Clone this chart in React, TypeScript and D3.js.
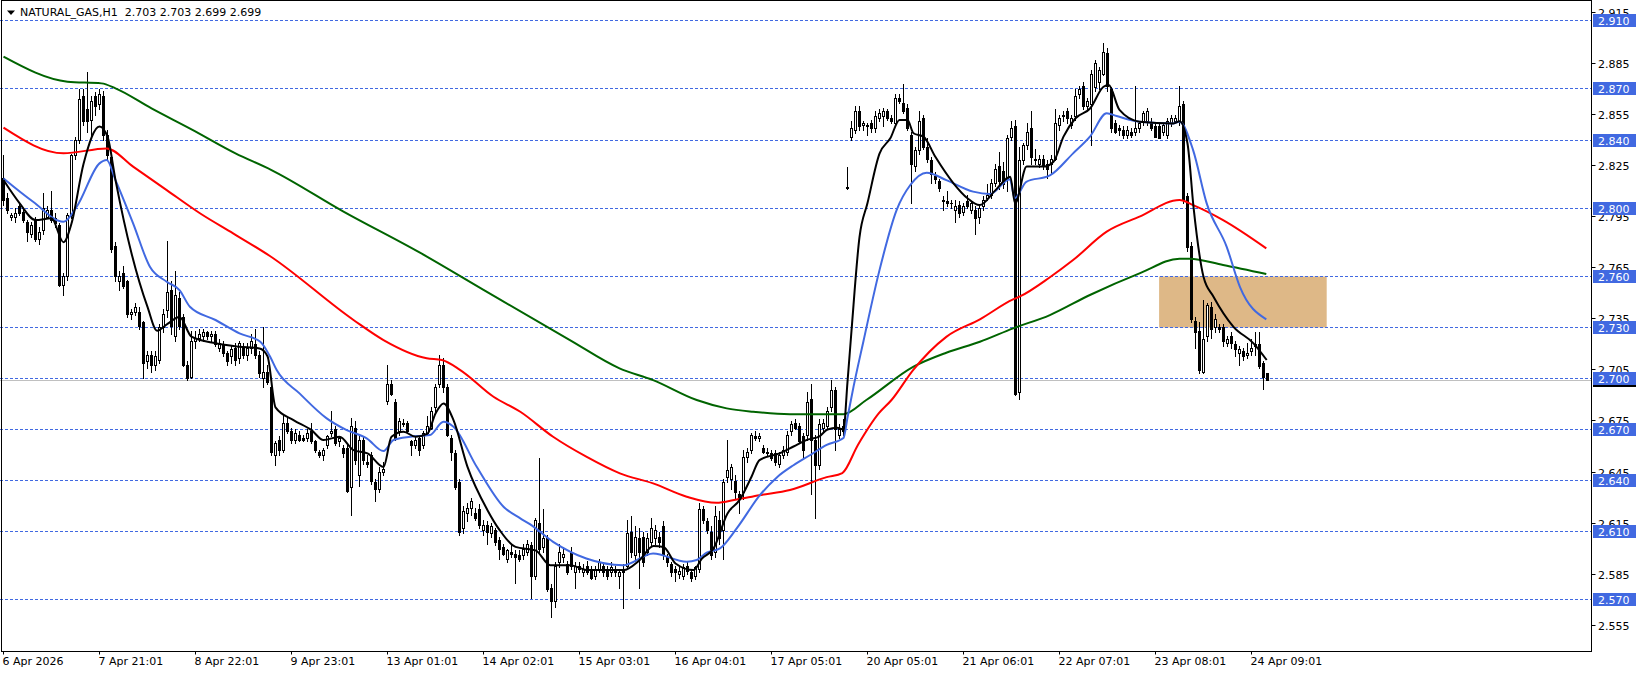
import { useMemo } from 'react';
import * as d3 from 'd3';

const WIDTH = 1641;
const HEIGHT = 675;
const PLOT_RIGHT = 1591.5;
const PLOT_BOTTOM = 651.5;
const FONT = "'DejaVu Sans', sans-serif";

const SYMBOL = 'NATURAL_GAS,H1';

// hourly bars, [open, high, low, close]
const bars: [number, number, number, number][] = [
  [2.818, 2.831, 2.802, 2.805], [2.806, 2.809, 2.797, 2.799], [2.795, 2.797, 2.793, 2.796], [2.795, 2.800, 2.792, 2.797],
  [2.801, 2.803, 2.796, 2.797], [2.798, 2.799, 2.792, 2.793], [2.792, 2.793, 2.781, 2.786], [2.785, 2.792, 2.783, 2.790],
  [2.793, 2.795, 2.781, 2.782], [2.782, 2.789, 2.779, 2.786], [2.787, 2.809, 2.785, 2.800], [2.795, 2.801, 2.794, 2.799],
  [2.799, 2.810, 2.792, 2.793], [2.794, 2.797, 2.789, 2.791], [2.790, 2.791, 2.754, 2.755], [2.755, 2.762, 2.749, 2.760],
  [2.760, 2.797, 2.758, 2.796], [2.796, 2.832, 2.794, 2.831], [2.831, 2.842, 2.829, 2.840], [2.840, 2.870, 2.838, 2.864],
  [2.866, 2.870, 2.849, 2.851], [2.858, 2.880, 2.845, 2.851], [2.852, 2.866, 2.842, 2.863], [2.866, 2.868, 2.855, 2.860],
  [2.861, 2.870, 2.858, 2.867], [2.866, 2.869, 2.840, 2.843], [2.843, 2.846, 2.829, 2.831], [2.830, 2.832, 2.774, 2.776],
  [2.778, 2.780, 2.757, 2.760], [2.757, 2.763, 2.752, 2.760], [2.762, 2.766, 2.753, 2.754], [2.757, 2.758, 2.736, 2.738],
  [2.738, 2.741, 2.735, 2.739], [2.739, 2.744, 2.737, 2.742], [2.739, 2.742, 2.729, 2.731], [2.733, 2.734, 2.700, 2.709],
  [2.710, 2.716, 2.706, 2.714], [2.714, 2.716, 2.704, 2.708], [2.708, 2.716, 2.705, 2.713], [2.711, 2.732, 2.709, 2.730],
  [2.730, 2.741, 2.727, 2.738], [2.740, 2.781, 2.736, 2.751], [2.752, 2.757, 2.726, 2.731], [2.725, 2.763, 2.722, 2.749],
  [2.747, 2.751, 2.729, 2.731], [2.736, 2.738, 2.707, 2.708], [2.708, 2.710, 2.699, 2.700], [2.701, 2.728, 2.700, 2.722],
  [2.722, 2.728, 2.718, 2.724], [2.724, 2.729, 2.722, 2.726], [2.725, 2.729, 2.722, 2.727], [2.727, 2.728, 2.723, 2.725],
  [2.725, 2.728, 2.722, 2.726], [2.726, 2.728, 2.719, 2.720], [2.718, 2.723, 2.716, 2.721], [2.720, 2.722, 2.713, 2.715],
  [2.715, 2.716, 2.708, 2.710], [2.713, 2.719, 2.709, 2.717], [2.718, 2.721, 2.708, 2.711], [2.712, 2.722, 2.709, 2.721],
  [2.718, 2.721, 2.712, 2.714], [2.714, 2.721, 2.711, 2.718], [2.718, 2.726, 2.715, 2.722], [2.720, 2.729, 2.712, 2.714],
  [2.714, 2.716, 2.701, 2.703], [2.700, 2.730, 2.695, 2.704], [2.704, 2.708, 2.697, 2.698], [2.695, 2.697, 2.655, 2.657],
  [2.655, 2.663, 2.649, 2.662], [2.664, 2.666, 2.655, 2.658], [2.658, 2.679, 2.657, 2.674], [2.674, 2.677, 2.668, 2.669],
  [2.669, 2.671, 2.662, 2.664], [2.664, 2.670, 2.662, 2.668], [2.667, 2.669, 2.663, 2.664], [2.665, 2.667, 2.663, 2.664],
  [2.665, 2.670, 2.663, 2.668], [2.669, 2.674, 2.662, 2.663], [2.663, 2.664, 2.657, 2.658], [2.657, 2.658, 2.654, 2.655],
  [2.655, 2.659, 2.652, 2.658], [2.661, 2.667, 2.659, 2.666], [2.668, 2.681, 2.666, 2.669], [2.670, 2.672, 2.661, 2.662],
  [2.663, 2.666, 2.660, 2.665], [2.659, 2.661, 2.654, 2.656], [2.659, 2.661, 2.633, 2.634], [2.636, 2.677, 2.620, 2.672],
  [2.671, 2.675, 2.650, 2.652], [2.643, 2.667, 2.637, 2.664], [2.664, 2.666, 2.650, 2.652], [2.651, 2.655, 2.648, 2.650],
  [2.655, 2.657, 2.638, 2.640], [2.639, 2.641, 2.628, 2.635], [2.635, 2.648, 2.633, 2.645], [2.645, 2.651, 2.643, 2.647],
  [2.687, 2.708, 2.685, 2.697], [2.697, 2.699, 2.690, 2.691], [2.686, 2.688, 2.664, 2.665], [2.669, 2.677, 2.667, 2.675],
  [2.674, 2.676, 2.672, 2.673], [2.674, 2.675, 2.668, 2.669], [2.663, 2.664, 2.655, 2.661], [2.661, 2.666, 2.659, 2.664],
  [2.665, 2.667, 2.655, 2.658], [2.661, 2.669, 2.659, 2.668], [2.668, 2.678, 2.667, 2.672], [2.671, 2.683, 2.670, 2.681],
  [2.683, 2.697, 2.681, 2.695], [2.697, 2.714, 2.695, 2.708], [2.708, 2.712, 2.692, 2.695], [2.695, 2.697, 2.666, 2.667],
  [2.665, 2.667, 2.652, 2.657], [2.656, 2.658, 2.635, 2.636], [2.639, 2.641, 2.608, 2.610], [2.612, 2.625, 2.609, 2.622],
  [2.621, 2.627, 2.616, 2.624], [2.624, 2.630, 2.620, 2.628], [2.621, 2.624, 2.617, 2.618], [2.623, 2.626, 2.612, 2.614],
  [2.611, 2.617, 2.608, 2.614], [2.614, 2.616, 2.603, 2.610], [2.609, 2.615, 2.607, 2.613], [2.611, 2.612, 2.602, 2.604],
  [2.605, 2.607, 2.594, 2.600], [2.601, 2.603, 2.596, 2.597], [2.594, 2.600, 2.592, 2.599], [2.598, 2.603, 2.595, 2.597],
  [2.597, 2.599, 2.580, 2.595], [2.596, 2.599, 2.593, 2.594], [2.596, 2.603, 2.594, 2.600], [2.598, 2.605, 2.596, 2.603],
  [2.602, 2.604, 2.571, 2.584], [2.584, 2.618, 2.582, 2.617], [2.615, 2.653, 2.598, 2.600], [2.601, 2.623, 2.598, 2.606],
  [2.606, 2.608, 2.575, 2.576], [2.577, 2.579, 2.560, 2.569], [2.569, 2.592, 2.566, 2.590], [2.592, 2.603, 2.589, 2.598],
  [2.595, 2.601, 2.592, 2.597], [2.591, 2.593, 2.585, 2.586], [2.598, 2.601, 2.588, 2.590], [2.586, 2.592, 2.577, 2.590],
  [2.590, 2.592, 2.586, 2.588], [2.586, 2.591, 2.584, 2.588], [2.590, 2.593, 2.585, 2.586], [2.588, 2.590, 2.582, 2.583],
  [2.584, 2.590, 2.582, 2.588], [2.588, 2.594, 2.586, 2.592], [2.590, 2.592, 2.584, 2.586], [2.588, 2.590, 2.582, 2.584],
  [2.586, 2.592, 2.584, 2.589], [2.588, 2.590, 2.584, 2.586], [2.584, 2.588, 2.577, 2.586], [2.588, 2.591, 2.565, 2.586],
  [2.590, 2.617, 2.588, 2.609], [2.610, 2.619, 2.595, 2.598], [2.596, 2.613, 2.593, 2.607], [2.606, 2.612, 2.577, 2.598],
  [2.607, 2.610, 2.590, 2.592], [2.598, 2.609, 2.596, 2.606], [2.604, 2.618, 2.602, 2.612], [2.606, 2.614, 2.603, 2.611],
  [2.607, 2.610, 2.601, 2.604], [2.613, 2.616, 2.594, 2.596], [2.595, 2.597, 2.590, 2.592], [2.591, 2.592, 2.584, 2.586],
  [2.588, 2.590, 2.581, 2.586], [2.585, 2.590, 2.583, 2.587], [2.584, 2.591, 2.582, 2.589], [2.590, 2.592, 2.585, 2.587],
  [2.586, 2.588, 2.581, 2.583], [2.584, 2.590, 2.582, 2.589], [2.588, 2.627, 2.586, 2.623], [2.623, 2.625, 2.615, 2.617],
  [2.616, 2.618, 2.609, 2.611], [2.610, 2.613, 2.594, 2.596], [2.598, 2.625, 2.595, 2.619], [2.617, 2.622, 2.603, 2.606],
  [2.611, 2.641, 2.594, 2.639], [2.642, 2.664, 2.639, 2.646], [2.641, 2.650, 2.635, 2.648], [2.640, 2.643, 2.630, 2.633],
  [2.632, 2.634, 2.621, 2.630], [2.633, 2.658, 2.629, 2.654], [2.654, 2.659, 2.651, 2.657], [2.658, 2.668, 2.656, 2.667],
  [2.666, 2.669, 2.664, 2.665], [2.665, 2.668, 2.663, 2.666], [2.659, 2.661, 2.656, 2.657], [2.657, 2.659, 2.655, 2.656],
  [2.656, 2.658, 2.652, 2.653], [2.656, 2.658, 2.649, 2.651], [2.650, 2.657, 2.648, 2.655], [2.655, 2.660, 2.653, 2.658],
  [2.657, 2.669, 2.655, 2.667], [2.669, 2.675, 2.667, 2.673], [2.674, 2.676, 2.670, 2.671], [2.672, 2.674, 2.662, 2.663],
  [2.666, 2.668, 2.653, 2.658], [2.667, 2.692, 2.664, 2.686], [2.688, 2.697, 2.632, 2.664], [2.664, 2.667, 2.618, 2.649],
  [2.649, 2.676, 2.647, 2.673], [2.671, 2.676, 2.669, 2.674], [2.672, 2.683, 2.670, 2.681], [2.683, 2.699, 2.681, 2.693],
  [2.693, 2.695, 2.658, 2.670], [2.667, 2.673, 2.665, 2.670], [2.672, 2.676, 2.667, 2.669], [2.8125, 2.824, 2.811, 2.812],
  [2.842, 2.851, 2.840, 2.847], [2.846, 2.860, 2.844, 2.857], [2.857, 2.860, 2.846, 2.848], [2.849, 2.851, 2.846, 2.850],
  [2.849, 2.850, 2.843, 2.848], [2.850, 2.852, 2.845, 2.847], [2.847, 2.857, 2.845, 2.854], [2.853, 2.858, 2.851, 2.856],
  [2.854, 2.859, 2.848, 2.857], [2.857, 2.858, 2.852, 2.853], [2.853, 2.855, 2.850, 2.851], [2.850, 2.867, 2.849, 2.865],
  [2.865, 2.867, 2.862, 2.863], [2.862, 2.873, 2.856, 2.857], [2.859, 2.861, 2.846, 2.847], [2.843, 2.845, 2.803, 2.826],
  [2.825, 2.836, 2.822, 2.834], [2.834, 2.857, 2.832, 2.851], [2.853, 2.855, 2.835, 2.836], [2.836, 2.841, 2.827, 2.829],
  [2.828, 2.830, 2.815, 2.820], [2.819, 2.821, 2.815, 2.817], [2.816, 2.817, 2.810, 2.812], [2.805, 2.807, 2.799, 2.804],
  [2.804, 2.810, 2.801, 2.803], [2.803, 2.805, 2.800, 2.803], [2.799, 2.805, 2.792, 2.801], [2.802, 2.804, 2.795, 2.797],
  [2.798, 2.803, 2.796, 2.801], [2.804, 2.808, 2.800, 2.801], [2.799, 2.804, 2.797, 2.803], [2.799, 2.801, 2.785, 2.794],
  [2.795, 2.802, 2.791, 2.800], [2.801, 2.807, 2.799, 2.805], [2.806, 2.814, 2.805, 2.808], [2.808, 2.817, 2.806, 2.815],
  [2.815, 2.826, 2.813, 2.823], [2.825, 2.833, 2.811, 2.816], [2.822, 2.827, 2.812, 2.814], [2.817, 2.843, 2.810, 2.841],
  [2.842, 2.851, 2.840, 2.847], [2.848, 2.852, 2.690, 2.691], [2.692, 2.836, 2.688, 2.828], [2.828, 2.838, 2.826, 2.837],
  [2.837, 2.850, 2.835, 2.845], [2.847, 2.857, 2.826, 2.830], [2.829, 2.835, 2.826, 2.828], [2.826, 2.831, 2.824, 2.829],
  [2.829, 2.831, 2.823, 2.825], [2.826, 2.828, 2.818, 2.823], [2.826, 2.831, 2.820, 2.829], [2.829, 2.858, 2.828, 2.850],
  [2.849, 2.855, 2.846, 2.853], [2.854, 2.857, 2.851, 2.855], [2.857, 2.859, 2.850, 2.853], [2.849, 2.855, 2.847, 2.853],
  [2.854, 2.870, 2.852, 2.866], [2.867, 2.872, 2.865, 2.870], [2.872, 2.874, 2.858, 2.860], [2.860, 2.865, 2.858, 2.863],
  [2.861, 2.881, 2.837, 2.879], [2.871, 2.887, 2.869, 2.885], [2.874, 2.883, 2.870, 2.881], [2.879, 2.897, 2.878, 2.892],
  [2.891, 2.894, 2.869, 2.872], [2.870, 2.871, 2.845, 2.847], [2.850, 2.852, 2.844, 2.845], [2.847, 2.849, 2.843, 2.846],
  [2.846, 2.848, 2.841, 2.843], [2.843, 2.848, 2.841, 2.846], [2.845, 2.847, 2.842, 2.843], [2.845, 2.872, 2.843, 2.847],
  [2.847, 2.851, 2.845, 2.850], [2.851, 2.857, 2.849, 2.856], [2.851, 2.859, 2.849, 2.857], [2.850, 2.853, 2.846, 2.847],
  [2.848, 2.850, 2.842, 2.842], [2.848, 2.850, 2.841, 2.841], [2.845, 2.850, 2.843, 2.849], [2.843, 2.853, 2.841, 2.851],
  [2.850, 2.855, 2.848, 2.853], [2.851, 2.855, 2.850, 2.853], [2.851, 2.872, 2.849, 2.860], [2.861, 2.863, 2.803, 2.805],
  [2.807, 2.809, 2.775, 2.777], [2.778, 2.780, 2.733, 2.735], [2.734, 2.736, 2.718, 2.727], [2.728, 2.733, 2.703, 2.705],
  [2.704, 2.746, 2.703, 2.723], [2.725, 2.744, 2.722, 2.743], [2.742, 2.745, 2.724, 2.729], [2.730, 2.738, 2.727, 2.735],
  [2.730, 2.732, 2.727, 2.729], [2.730, 2.732, 2.719, 2.722], [2.721, 2.725, 2.719, 2.723], [2.725, 2.727, 2.718, 2.721],
  [2.720, 2.722, 2.713, 2.717], [2.715, 2.719, 2.708, 2.717], [2.716, 2.718, 2.711, 2.713], [2.714, 2.721, 2.712, 2.715],
  [2.716, 2.723, 2.714, 2.718], [2.719, 2.727, 2.714, 2.720], [2.720, 2.727, 2.706, 2.707], [2.709, 2.710, 2.694, 2.701],
  [2.703, 2.703, 2.699, 2.699],
];

// moving averages, [bar index, value]
const maFast: [number, number][] = [
  [0, 2.8165], [4, 2.803], [8, 2.793], [12, 2.794], [15, 2.780], [17, 2.791], [20, 2.826], [24, 2.848], [26, 2.842],
  [28, 2.8165], [32, 2.7735], [36, 2.742], [38.4, 2.728], [41, 2.732], [44, 2.736], [47, 2.7245], [53, 2.7206],
  [59, 2.7186], [64, 2.7175], [66, 2.713], [68, 2.683], [72.5, 2.6755], [77, 2.6696], [80, 2.6638], [84, 2.6657],
  [87.5, 2.6579], [91, 2.656], [95, 2.648], [97, 2.6657], [100, 2.6687], [103, 2.6657], [106, 2.6676], [108, 2.6794],
  [110, 2.6853], [112.5, 2.6755], [116, 2.648], [121, 2.6226], [124, 2.611], [128, 2.601], [133, 2.599], [136.7, 2.5903],
  [141.7, 2.5903], [146, 2.5874], [155, 2.5874], [159, 2.5932], [162.5, 2.6015], [165, 2.601], [168, 2.5913],
  [172.5, 2.5874], [174.6, 2.5941], [177.5, 2.600], [181, 2.6207], [184, 2.6285], [187, 2.6422], [189, 2.652],
  [194, 2.656], [197.5, 2.660], [201, 2.664], [204, 2.666], [206, 2.670], [208.4, 2.671], [210, 2.670], [211, 2.698],
  [212, 2.728], [214, 2.783], [216, 2.803], [219, 2.832], [221.7, 2.841], [224, 2.8518], [226, 2.8518], [227.5, 2.844],
  [230, 2.842], [233, 2.830], [237.5, 2.8146], [241, 2.8058], [244, 2.8018], [248, 2.8106], [251.7, 2.8185],
  [252.9, 2.8028], [255.8, 2.8244], [260, 2.8244], [262.5, 2.8273], [265, 2.842], [268, 2.8528], [271.7, 2.8587],
  [275, 2.8713], [276.3, 2.8723], [279, 2.8577], [284, 2.8508], [292.5, 2.8498], [294, 2.851], [296, 2.838],
  [297.5, 2.8008], [300, 2.7597], [302.5, 2.748], [307.5, 2.7303], [312.5, 2.7206], [315.8, 2.7108],
];

const maMid: [number, number][] = [
  [0, 2.8175], [7.4, 2.8038], [15, 2.792], [18.3, 2.8008], [24, 2.8263], [25.8, 2.8283], [28, 2.8165], [32.4, 2.7911],
  [36.6, 2.7656], [40.8, 2.7568], [44, 2.7519], [46.6, 2.7421], [53, 2.7343], [59, 2.7264], [64.2, 2.7215],
  [66.6, 2.713], [68.3, 2.7049], [74, 2.6912], [80.8, 2.6765], [85.8, 2.6696], [90.8, 2.6648], [95, 2.6573],
  [97.5, 2.6638], [101.7, 2.6657], [106.6, 2.6667], [110, 2.6745], [112.5, 2.6716], [118.3, 2.6481], [125, 2.6246],
  [129.2, 2.6178], [131.6, 2.6144], [137.4, 2.604], [145.7, 2.5942], [154.9, 2.5903], [162.4, 2.5972],
  [170.8, 2.5923], [173.3, 2.5933], [175.8, 2.5976], [179.1, 2.6001], [183.3, 2.6119], [189.1, 2.6314],
  [193.4, 2.642], [197.5, 2.649], [201.7, 2.655], [205.8, 2.661], [210, 2.665], [211, 2.677], [212.5, 2.695],
  [215, 2.722], [219, 2.7636], [223.3, 2.799], [226.7, 2.8136], [230.8, 2.8208], [235.7, 2.8165], [242.4, 2.8097],
  [246.6, 2.8083], [251.6, 2.817], [252.8, 2.8058], [255.7, 2.8155], [261.6, 2.8192], [267.4, 2.8322], [271.6, 2.842],
  [275.8, 2.8557], [278.3, 2.8541], [284, 2.8508], [292.4, 2.8498], [294, 2.8508], [297.4, 2.8341], [300.8, 2.8028],
  [305.8, 2.7773], [309.1, 2.7538], [315.7, 2.7347],
];

const maSlow: [number, number][] = [
  [0, 2.8473], [15, 2.8322], [25.8, 2.8351], [32.4, 2.8244], [40.8, 2.8106], [49.1, 2.797], [57.4, 2.7852],
  [66.6, 2.7719], [87.5, 2.7343], [95, 2.7225], [105.8, 2.7118], [109.6, 2.7108], [114.2, 2.7049], [122.5, 2.6892],
  [129.2, 2.6804], [137.4, 2.6657], [145.7, 2.654], [154.1, 2.6442], [162.4, 2.6383], [170.8, 2.6305],
  [178.2, 2.6269], [183.3, 2.6289], [189, 2.6314], [196.6, 2.6344], [205.8, 2.642], [209.7, 2.6444],
  [213.6, 2.6609], [218.8, 2.6794], [222, 2.6873], [227.4, 2.7049], [235.7, 2.7244], [244.1, 2.7347],
  [252.4, 2.7464], [254, 2.748], [261.6, 2.7594], [267.4, 2.7695], [275.8, 2.7862], [284, 2.795], [294, 2.8048],
  [297.4, 2.8018], [304.9, 2.793], [315.7, 2.7764],
];

const maLong: [number, number][] = [
  [0, 2.889], [16, 2.8743], [24.5, 2.8733], [28, 2.8704], [37, 2.8586], [47, 2.8463], [58, 2.8322], [67, 2.8224],
  [85, 2.798], [104, 2.774], [120, 2.752], [141.6, 2.7225], [154, 2.7059], [162.4, 2.699], [173.3, 2.6873],
  [180.8, 2.6824], [187.4, 2.6804], [196.6, 2.679], [210, 2.679], [215.7, 2.6873], [227.4, 2.7068], [235.7, 2.7151],
  [244.1, 2.7215], [252.4, 2.7294], [261.6, 2.7372], [271.6, 2.749], [284, 2.7617], [294, 2.7703], [296.5, 2.7703],
  [304.9, 2.7666], [315.7, 2.7613],
];

const timeLabels = [
  '6 Apr 2026', '7 Apr 21:01', '8 Apr 22:01', '9 Apr 23:01', '13 Apr 01:01', '14 Apr 02:01', '15 Apr 03:01',
  '16 Apr 04:01', '17 Apr 05:01', '20 Apr 05:01', '21 Apr 06:01', '22 Apr 07:01', '23 Apr 08:01', '24 Apr 09:01',
];
const BARS_PER_LABEL = 24;

const priceTicks = [2.555, 2.585, 2.615, 2.645, 2.675, 2.705, 2.735, 2.765, 2.795, 2.825, 2.855, 2.885, 2.915];
const levels = [2.910, 2.870, 2.840, 2.800, 2.760, 2.730, 2.700, 2.670, 2.640, 2.610, 2.570];

// supply zone drawn on the chart (bar range, price range)
const zoneBars = [288.9, 330.8];
const zonePrices = [2.760, 2.730];

const LEVEL_BLUE = '#4169E1';

export default function App() {
  const x = d3.scaleLinear().domain([0, 1]).range([3.5, 7.5]);
  const y = d3.scaleLinear().domain([2.91, 2.57]).range([20.9, 599.7]);
  const row = (p: number) => Math.floor(y(p)) + 0.5;

  const maPath = useMemo(() => {
    const gen = d3
      .line<[number, number]>()
      .x((d) => x(d[0]))
      .y((d) => y(d[1]))
      .curve(d3.curveMonotoneX);
    return (pts: [number, number][]) => gen(pts) || '';
  }, []);

  const last = bars[bars.length - 1];
  const bid = last[3];

  const candles = bars.map(([o, h, l, c], i) => {
    const cx = x(i);
    const top = Math.round(y(Math.max(o, c)));
    const bot = Math.round(y(Math.min(o, c)));
    const up = c >= o;
    return (
      <g key={i}>
        <line x1={cx} x2={cx} y1={Math.round(y(h))} y2={Math.round(y(l)) + 1} stroke="#000" strokeWidth={1} />
        {bot - top < 1 ? (
          <line x1={cx - 1.5} x2={cx + 1.5} y1={top + 0.5} y2={top + 0.5} stroke="#000" />
        ) : (
          <rect x={cx - 1} y={top + 0.5} width={2} height={bot - top} fill={up ? '#fff' : '#000'} stroke="#000" strokeWidth={1} />
        )}
      </g>
    );
  });

  return (
    <div style={{ position: 'absolute', left: 0, top: 0 }}>
      <svg width={WIDTH} height={HEIGHT} style={{ display: 'block', fontFamily: FONT }}>
        <rect x={0} y={0} width={WIDTH} height={HEIGHT} fill="#fff" />

        {/* zone */}
        <rect
          x={x(zoneBars[0])}
          y={row(zonePrices[0])}
          width={x(zoneBars[1]) - x(zoneBars[0])}
          height={row(zonePrices[1]) - row(zonePrices[0])}
          fill="#DEB887"
        />

        {/* horizontal levels */}
        {levels.map((p) => (
          <line key={p} x1={0} x2={PLOT_RIGHT} y1={row(p)} y2={row(p)} stroke={LEVEL_BLUE} strokeDasharray="3,2" />
        ))}

        {/* bid line */}
        <line x1={0} x2={PLOT_RIGHT} y1={row(bid)} y2={row(bid)} stroke="#C0C0C0" />

        {candles}

        <path d={maPath(maLong)} fill="none" stroke="#006400" strokeWidth={2} />
        <path d={maPath(maSlow)} fill="none" stroke="#FF0000" strokeWidth={2} />
        <path d={maPath(maMid)} fill="none" stroke={LEVEL_BLUE} strokeWidth={2} />
        <path d={maPath(maFast)} fill="none" stroke="#000" strokeWidth={2} />

        {/* axis area */}
        <rect x={PLOT_RIGHT + 0.5} y={0} width={WIDTH - PLOT_RIGHT} height={HEIGHT} fill="#fff" />
        <rect x={0} y={PLOT_BOTTOM + 0.5} width={WIDTH} height={HEIGHT - PLOT_BOTTOM} fill="#fff" />
        <rect x={1.5} y={0.5} width={PLOT_RIGHT - 1.5} height={PLOT_BOTTOM - 0.5} fill="none" stroke="#000" />

        {/* price axis */}
        {priceTicks.map((p) => (
          <g key={p}>
            <line x1={PLOT_RIGHT} x2={PLOT_RIGHT + 4} y1={row(p)} y2={row(p)} stroke="#000" />
            <text x={1598} y={row(p) + 4} fontSize={11} fill="#000">
              {p.toFixed(3)}
            </text>
          </g>
        ))}
        <rect x={1593} y={row(bid) - 6.5} width={43} height={13} fill="#000" />
        {levels.map((p) => (
          <g key={p}>
            <rect x={1593} y={row(p) - 6.5} width={43} height={13} fill={LEVEL_BLUE} />
            <text x={1598} y={row(p) + 4} fontSize={11} fill="#fff">
              {p.toFixed(3)}
            </text>
          </g>
        ))}

        {/* time axis */}
        {timeLabels.map((t, k) => {
          const tx = x(k * BARS_PER_LABEL);
          return (
            <g key={t}>
              <line x1={tx} x2={tx} y1={PLOT_BOTTOM} y2={PLOT_BOTTOM + 3} stroke="#000" />
              <text x={tx - 1} y={665} fontSize={11} fill="#000">
                {t}
              </text>
            </g>
          );
        })}

        {/* title */}
        <path d="M7,10.5 L15,10.5 L11,15 Z" fill="#000" />
        <text x={20} y={16} fontSize={11} fill="#000" style={{ whiteSpace: 'pre' }}>
          {`${SYMBOL}  ${last.map((v) => v.toFixed(3)).join(' ')}`}
        </text>
      </svg>
    </div>
  );
}
